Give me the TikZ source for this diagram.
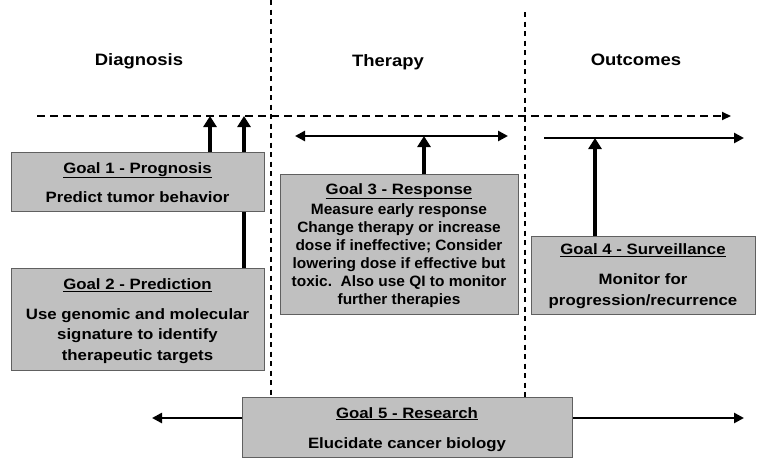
\documentclass[tikz,border=0pt]{standalone}
\usepackage{fontspec}
\setmainfont[FakeStretch=1.12]{Liberation Sans}
\newfontfamily\narrowfont[FakeStretch=1.03]{Liberation Sans}
\usetikzlibrary{arrows.meta}
\definecolor{boxgray}{HTML}{C0C0C0}
\definecolor{boxline}{HTML}{606060}
\tikzset{
  goalbox/.style={draw=boxline, fill=boxgray, line width=0.9pt, inner sep=0pt, anchor=north west},
  gtext/.style={font=\bfseries\fontsize{15}{20.5}\selectfont, align=center, inner sep=0pt, anchor=base},
  gtextn/.style={font=\narrowfont\bfseries\fontsize{15}{18}\selectfont, align=center, inner sep=0pt, anchor=base},
  head/.style={font=\bfseries\fontsize{16.5}{18}\selectfont, inner sep=0pt, anchor=base},
  uparrow/.style={line width=4pt, -{Triangle[length=11pt,width=13pt]}},
  harrow/.style={line width=2.6pt, -{Triangle[length=10pt,width=10pt]}},
  dharrow/.style={line width=2.6pt, {Triangle[length=10pt,width=10pt]}-{Triangle[length=10pt,width=10pt]}},
  divider/.style={line width=1.4pt, dash pattern=on 5pt off 4.5pt},
  timeline/.style={line width=2pt, dash pattern=on 8pt off 5pt, -{Triangle[length=9pt,width=8pt]}},
}
\begin{document}
\begin{tikzpicture}[x=1pt,y=-1pt]
\useasboundingbox (0,0) rectangle (760,458);

% headers
\node[head] (hdiag) at (139,65) {Diagnosis};
\node[head] (hther) at (388,66.5) {Therapy};
\node[head] (hout) at (636,65) {Outcomes};

% dividers
\coordinate (d1t) at (271,0);
\coordinate (d1b) at (271,397);
\coordinate (d2t) at (525,12);
\coordinate (d2b) at (525,397);
\draw[divider] (d1t) -- (d1b);
\draw[divider] (d2t) -- (d2b);

% timeline
\coordinate (ts) at (37,116);
\coordinate (te) at (731,116);
\draw[timeline] (ts) -- (te);

% Goal 2
\node[goalbox, minimum width=253pt, minimum height=102pt] (g2) at (11,268) {};
\node[gtext] (g2t) at (137.5,289.3) {\underline{Goal 2 - Prediction}};
\node[gtext] (g2b) at (137.5,360) {Use genomic and molecular\\signature to identify\\therapeutic targets};

\coordinate (t2) at (244,116);
\draw[uparrow] (g2.north -| t2) -- (t2);

% Goal 1
\node[goalbox, minimum width=253pt, minimum height=59pt] (g1) at (11,152) {};
\node[gtext] (g1t) at (137.5,173) {\underline{Goal 1 - Prognosis}};
\node[gtext] (g1b) at (137.5,202.3) {Predict tumor behavior};
\coordinate (t1) at (210,116);
\draw[uparrow] (g1.north -| t1) -- (t1);

% Goal 3
\node[goalbox, minimum width=238pt, minimum height=140pt] (g3) at (280,174) {};
\node[gtext] (g3t) at (399,194) {\underline{Goal 3 - Response}};
\node[gtextn] (g3b) at (399,304) {Measure early response\\Change therapy or increase\\dose if ineffective; Consider\\lowering dose if effective but\\toxic.\ \ Also use QI to monitor\\further therapies};
\coordinate (r3l) at (295,136);
\coordinate (r3r) at (508,136);
\coordinate (r3m) at (424,136);
\draw[dharrow] (r3l) -- (r3r);
\draw[uparrow] (g3.north -| r3m) -- (r3m);

% Goal 4
\node[goalbox, minimum width=224pt, minimum height=78pt] (g4) at (531,236) {};
\node[gtext] (g4t) at (643,254.5) {\underline{Goal 4 - Surveillance}};
\node[gtext] (g4b) at (643,305) {Monitor for\\progression/recurrence};
\coordinate (r4l) at (544,138);
\coordinate (r4r) at (744,138);
\coordinate (r4m) at (595,138);
\draw[harrow] (r4l) -- (r4r);
\draw[uparrow] (g4.north -| r4m) -- (r4m);

% Goal 5
\node[goalbox, minimum width=330pt, minimum height=60pt] (g5) at (242,397) {};
\node[gtext] (g5t) at (407,418) {\underline{Goal 5 - Research}};
\node[gtext] (g5b) at (407,448) {Elucidate cancer biology};
\coordinate (r5l) at (152,418);
\coordinate (r5r) at (744,418);
\draw[harrow] (g5.west |- r5l) -- (r5l);
\draw[harrow] (g5.east |- r5r) -- (r5r);
\end{tikzpicture}
\end{document}
